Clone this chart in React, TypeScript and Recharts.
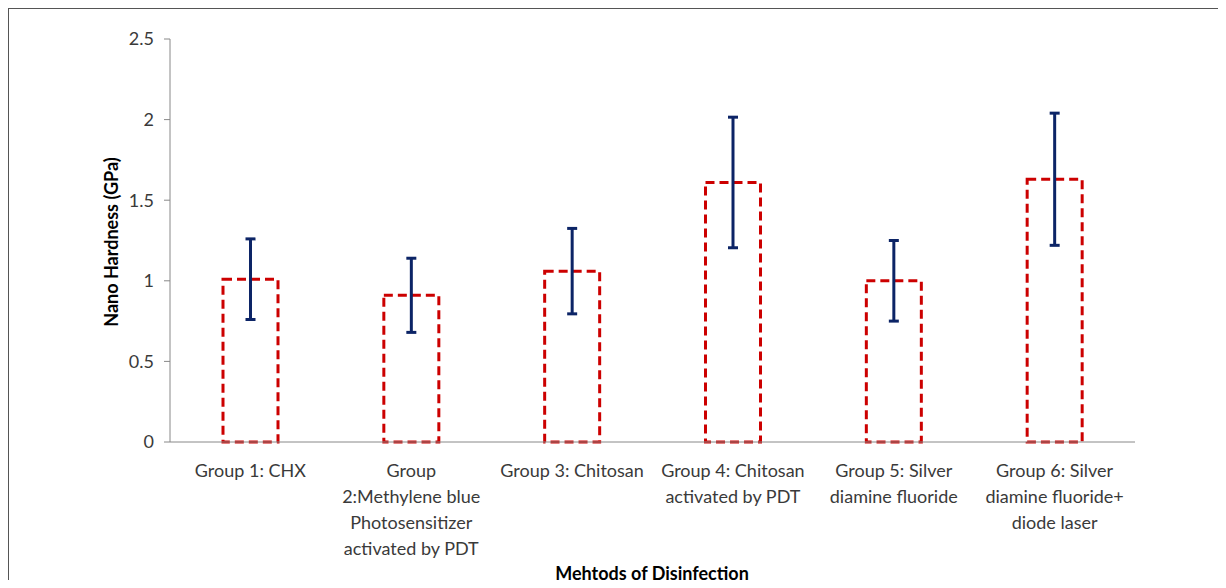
import { BarChart, Bar, XAxis, YAxis, ErrorBar } from "recharts";

// Mean nano hardness (GPa) per disinfection group, with +/- error
const GROUPS = [
  "Group 1: CHX",
  "Group\n2:Methylene blue\nPhotosensitizer\nactivated by PDT",
  "Group 3: Chitosan",
  "Group 4: Chitosan\nactivated by PDT",
  "Group 5: Silver\ndiamine fluoride",
  "Group 6: Silver\ndiamine fluoride+\ndiode laser",
];
const HARDNESS = [1.01, 0.91, 1.06, 1.61, 1.0, 1.63];
const ERRORS = [0.25, 0.23, 0.265, 0.405, 0.25, 0.41];
const Y_TICKS = [0, 0.5, 1, 1.5, 2, 2.5];

const FONT = "Lato, 'Open Sans', sans-serif";

const data = GROUPS.map((g, i) => ({ group: g, hardness: HARDNESS[i], err: ERRORS[i] }));

function GroupTick(props: any) {
  const { x, y, payload } = props;
  const lines = String(payload.value).split("\n");
  return (
    <text x={x} y={y} textAnchor="middle" fontFamily={FONT} fontSize={18} fill="#3a3a3a">
      {lines.map((l, i) => (
        <tspan key={i} x={x} dy={i === 0 ? 27 : 26}>
          {l}
        </tspan>
      ))}
    </text>
  );
}

export default function App() {
  return (
    <div style={{ position: "relative", width: 1226, height: 588, margin: -8, background: "#fff" }}>
      <div
        style={{
          position: "absolute",
          left: 7,
          top: 7,
          right: 0,
          bottom: 0,
          borderTop: "2px solid #555",
          borderLeft: "2px solid #555",
        }}
      />
      <div style={{ position: "absolute", left: 0, top: 0 }}>
        <BarChart
          width={1226}
          height={588}
          data={data}
          margin={{ top: 39, right: 91, left: 0, bottom: 36 }}
          barCategoryGap={0}
        >
          <XAxis
            dataKey="group"
            height={110}
            interval={0}
            tickLine={false}
            axisLine={{ stroke: "#888", strokeWidth: 1 }}
            tick={<GroupTick />}
          />
          <YAxis
            width={170}
            domain={[0, 2.5]}
            ticks={Y_TICKS}
            tickSize={6}
            tickMargin={10}
            axisLine={{ stroke: "#888", strokeWidth: 1 }}
            tickLine={{ stroke: "#888" }}
            tick={{ fontFamily: FONT, fontSize: 18, fill: "#3a3a3a" }}
          />
          <Bar
            dataKey="hardness"
            barSize={55}
            fill="none"
            stroke="#cc0000"
            strokeWidth={3}
            strokeDasharray="9 5"
            isAnimationActive={false}
          >
            <ErrorBar
              dataKey="err"
              direction="y"
              width={5}
              stroke="#0c2466"
              strokeWidth={3}
              isAnimationActive={false}
            />
          </Bar>
          <text
            x={652}
            y={580}
            textAnchor="middle"
            fontFamily={FONT}
            fontSize={18}
            fontWeight="bold"
            fill="#000"
          >
            Mehtods of Disinfection
          </text>
          <text
            x={118}
            y={242}
            transform="rotate(-90 118 242)"
            textAnchor="middle"
            fontFamily={FONT}
            fontSize={18}
            fontWeight="bold"
            fill="#000"
          >
            Nano Hardness (GPa)
          </text>
        </BarChart>
      </div>
    </div>
  );
}
